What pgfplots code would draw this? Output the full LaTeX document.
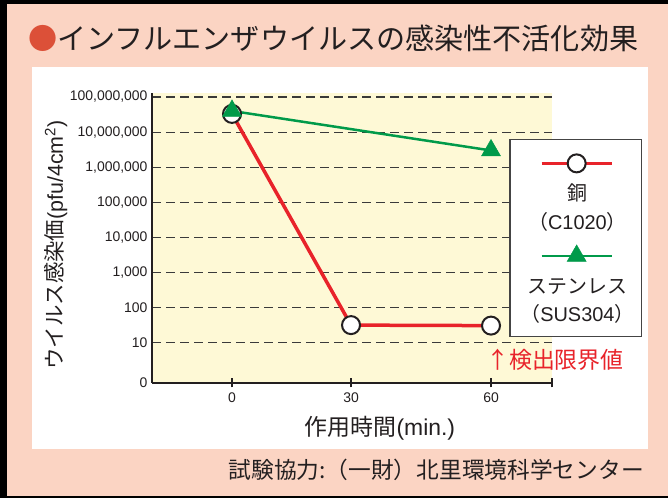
\documentclass[border=0pt]{standalone}
\usepackage{fontspec}
\setmainfont{Liberation Sans}
\newfontfamily\jp{Noto Sans CJK JP}
\usepackage{pgfplots}
\pgfplotsset{compat=1.18}
\definecolor{pinkbg}{HTML}{FBD4C3}
\definecolor{plotbg}{HTML}{FEF9D6}
\definecolor{redline}{HTML}{E8232A}
\definecolor{greenline}{HTML}{009A4A}
\definecolor{titlered}{HTML}{DC5038}
\definecolor{textdark}{HTML}{231F20}
\definecolor{gridgray}{HTML}{3A3A3A}
\definecolor{legframe}{HTML}{444444}
\begin{document}
\begin{tikzpicture}[x=1bp,y=1bp]
\useasboundingbox (0,0) rectangle (668,498);
\fill[black] (0,0) rectangle (668,498);
\fill[pinkbg] (7,2) rectangle (668,494);
\fill[white] (32,49) rectangle (648,431);
\node[anchor=west, inner sep=0pt, text=textdark, font=\jp\fontsize{29.2}{31}\selectfont] at (28,460) {{\color{titlered}●}インフルエンザウイルスの感染性不活化効果};
\begin{axis}[
  at={(152bp,115bp)}, anchor=south west,
  scale only axis, width=400bp, height=290bp,
  xmin=-20.17, xmax=73.07,
  ymode=log, ymin=0.72, ymax=1.3e8,
  x coord trafo/.code={\pgfmathparse{#1<=30 ? #1*3.9667 : 119+(#1-30)*4.6667}},
  x coord inv trafo/.code={\pgfmathparse{#1<=119 ? #1/3.9667 : 30+(#1-119)/4.6667}},
  axis x line*=bottom, axis y line*=left,
  axis line style={-, line width=1.3bp, draw=textdark},
  axis background/.style={fill=plotbg},
  xtick={0,30,60}, xticklabels={0,30,60},
  extra x ticks={73.07}, extra x tick labels={},
  xtick align=center,
  major tick length=9bp,
  x tick style={line width=1.3bp, draw=textdark},
  ytick={10,100,1000,10000,100000,1000000,10000000,100000000},
  yticklabels={10,100,{1,000},{10,000},{100,000},{1,000,000},{10,000,000},{100,000,000}},
  extra y ticks={0.72}, extra y tick labels={0},
  extra y tick style={grid=none},
  y tick style={draw=none},
  ymajorgrids,
  grid style={line width=1.2bp, draw=gridgray, dash pattern=on 9bp off 5bp},
  /pgf/number format/assume math mode=true,
  tick label style={font=\fontsize{14}{15}\selectfont, text=textdark},
  yticklabel style={xshift=-1bp},
  xticklabel style={yshift=-2bp},
  xlabel={{\jp 作用時間}(min.)},
  xlabel style={at={(axis description cs:0.57,-0.155)}, anchor=center, font=\fontsize{23}{25}\selectfont, text=textdark},
  ylabel={{\jp ウイルス感染価}(pfu/4cm\textsuperscript{2})},
  ylabel style={at={(axis description cs:-0.24,0.476)}, anchor=center, font=\fontsize{21.5}{23}\selectfont, text=textdark},
  clip=false,
  legend cell align=center,
  legend style={at={(1.225,0.8414)}, anchor=north east, draw=legframe, line width=1.2bp, fill=white,
     inner xsep=3bp, inner ysep=11bp, row sep=10bp,
     nodes={text width=118bp, text depth=, text height=, align=center, inner sep=2bp, text=textdark, font=\jp\fontsize{20}{28.5}\selectfont}},
]
\addplot[draw=redline, line width=3.5bp, mark=*, mark size=9bp, mark options={fill=white, draw=textdark, line width=2bp}, forget plot]
  coordinates {(0,3.3e7) (30,32) (60,31)};
\addplot[draw=greenline, line width=2.5bp, mark=triangle*, mark size=11bp, mark options={fill=greenline, draw=greenline, line width=0.5bp}, forget plot]
  coordinates {(0,4.0e7) (60,3.0e6)};
\addlegendimage{draw=redline, line width=3.5bp, mark=*, mark size=9bp, mark options={fill=white, draw=textdark, line width=2bp},
  legend image code/.code={\path (0,0); \draw[overlay, mark repeat=2, mark phase=2] plot coordinates {(27bp,28.5bp) (62bp,28.5bp) (97bp,28.5bp)};}}
\addlegendentry{\strut\\銅\\（{\rmfamily C1020}）}
\addlegendimage{draw=greenline, line width=2.5bp, mark=triangle*, mark size=11bp, mark options={fill=greenline, draw=greenline, line width=0.5bp},
  legend image code/.code={\path (0,0); \draw[overlay, mark repeat=2, mark phase=2] plot coordinates {(27bp,28.5bp) (62bp,28.5bp) (97bp,28.5bp)};}}
\addlegendentry{\strut\\ステンレス\\（{\rmfamily SUS304}）}
\end{axis}
\node[anchor=west, inner sep=0pt, text=redline, font=\jp\fontsize{23}{25}\selectfont] at (486,138) {↑検出限界値};
\node[anchor=east, inner sep=0pt, text=textdark, font=\jp\fontsize{22.8}{24}\selectfont] at (644,28) {試験協力:（一財）北里環境科学センター};
\end{tikzpicture}
\end{document}
